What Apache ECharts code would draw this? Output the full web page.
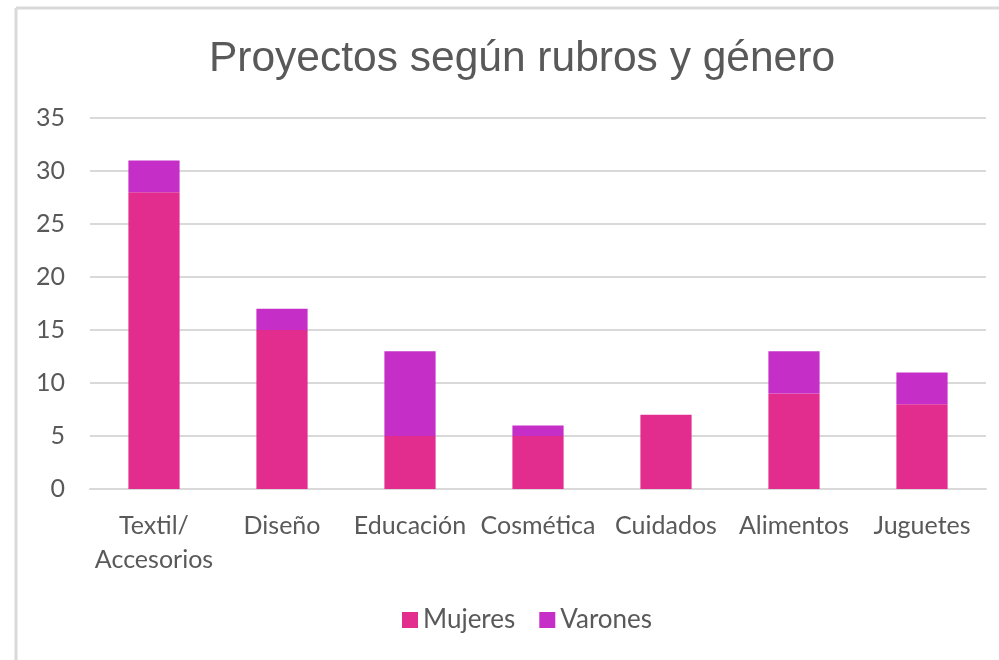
<!DOCTYPE html>
<html>
<head>
<meta charset="utf-8">
<style>
html, body { margin: 0; padding: 0; background: #fff; }
#chart { width: 999px; height: 660px; }
</style>
<script src="https://cdn.jsdelivr.net/npm/echarts@6/dist/echarts.min.js"></script>
</head>
<body>
<div id="chart"></div>
<script>
const categories = ['Textil/\nAccesorios', 'Diseño', 'Educación', 'Cosmética', 'Cuidados', 'Alimentos', 'Juguetes'];
const mujeres = [28, 15, 5, 5, 7, 9, 8];
const varones = [3, 2, 8, 1, 0, 4, 3];
const yTicks = { min: 0, max: 35, interval: 5 };

const textColor = '#595959';
const labelFont = 'Lato, "Open Sans", sans-serif';

const chart = echarts.init(document.getElementById('chart'));
chart.setOption({
    animation: false,
    title: {
        text: 'Proyectos según rubros y género',
        left: 517,
        textAlign: 'center',
        top: 33,
        textStyle: {
            color: textColor,
            fontSize: 42.5,
            fontWeight: 'normal',
            fontFamily: '"Liberation Sans", Arial, sans-serif'
        }
    },
    legend: {
        bottom: 22,
        left: 397,
        itemWidth: 16,
        itemHeight: 16,
        itemGap: 24,
        icon: 'rect',
        textStyle: { color: textColor, fontSize: 26, fontFamily: labelFont }
    },
    grid: { left: 90, right: 13, top: 118, bottom: 171 },
    xAxis: {
        type: 'category',
        data: categories,
        axisLine: { lineStyle: { color: '#d9d9d9', width: 2 } },
        axisTick: { show: false },
        axisLabel: {
            color: textColor,
            fontSize: 25,
            fontFamily: labelFont,
            margin: 20,
            lineHeight: 34,
            interval: 0
        }
    },
    yAxis: {
        type: 'value',
        min: yTicks.min,
        max: yTicks.max,
        interval: yTicks.interval,
        axisLine: { show: false },
        axisTick: { show: false },
        axisLabel: { color: textColor, fontSize: 25, fontFamily: labelFont, margin: 25 },
        splitLine: { lineStyle: { color: '#d9d9d9', width: 2 } }
    },
    series: [
        {
            name: 'Mujeres',
            type: 'bar',
            stack: 'total',
            barWidth: '40%',
            data: mujeres,
            itemStyle: { color: '#e32d8e' }
        },
        {
            name: 'Varones',
            type: 'bar',
            stack: 'total',
            data: varones,
            itemStyle: { color: '#c52fc8' }
        }
    ],
    graphic: [
        { type: 'line', shape: { x1: 16, y1: 8, x2: 999, y2: 8 }, style: { stroke: '#d9d9d9', lineWidth: 3 } },
        { type: 'line', shape: { x1: 16, y1: 8, x2: 16, y2: 660 }, style: { stroke: '#d9d9d9', lineWidth: 3 } }
    ]
});
</script>
</body>
</html>
